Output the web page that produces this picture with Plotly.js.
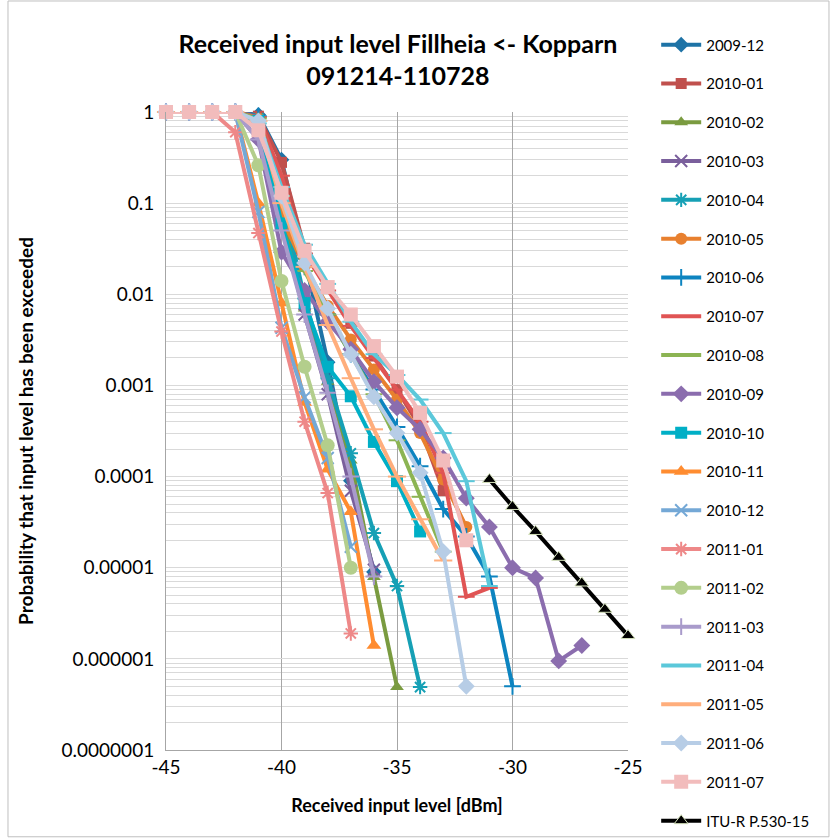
<!DOCTYPE html>
<html>
<head>
<meta charset="utf-8">
<script src="https://cdn.plot.ly/plotly-3.0.1.min.js"></script>
<style>html,body{margin:0;padding:0;background:#fff;}#chart{width:830px;height:840px;}</style>
</head>
<body>
<div id="chart"></div>
<script>
// Received input level (dBm), 1 dB steps starting at -45
const levels = [-45,-44,-43,-42,-41,-40,-39,-38,-37,-36,-35,-34,-33,-32,-31,-30,-29,-28,-27,-26,-25];
const ituLevels = [-31,-30,-29,-28,-27,-26,-25];
const xTickVals = [-45,-40,-35,-30,-25];
const xTickText = ['-45','-40','-35','-30','-25'];
const yTickVals = [1e-7,1e-6,1e-5,1e-4,1e-3,1e-2,1e-1,1];
const yTickText = ['0.0000001','0.000001','0.00001','0.0001','0.001','0.01','0.1','1'];

// Probability that input level has been exceeded, per month
const s2009_12 = [1,1,1,1,0.93,0.3,0.025,0.0018,0.00009,0.000009];
const s2010_01 = [1,1,1,1,0.9,0.28,0.032,0.012,0.0048,0.0021,0.0009,0.00035,0.00007];
const s2010_02 = [1,1,1,1,0.8,0.09,0.007,0.0011,0.00015,0.0000079,0.00000049];
const s2010_03 = [1,1,1,1,0.7,0.06,0.006,0.0008,0.00007,0.0000095];
const s2010_04 = [1,1,1,1,0.85,0.12,0.009,0.0012,0.00018,0.000024,0.0000063,0.00000049];
const s2010_05 = [1,1,1,1,0.85,0.07,0.02,0.0075,0.0032,0.0015,0.0007,0.0003,0.000093,0.000028];
const s2010_06 = [1,1,1,1,0.9,0.15,0.02,0.006,0.0022,0.0009,0.00035,0.00013,0.000044,0.000022,0.000008,0.0000005];
const s2010_07 = [1,1,1,1,0.88,0.2,0.028,0.011,0.0045,0.002,0.0009,0.0004,0.00011,0.0000048,0.000006];
const s2010_08 = [1,1,1,1,0.85,0.12,0.018,0.006,0.0022,0.0008,0.00025,0.00006,0.000015];
const s2010_09 = [1,1,1,1,0.5,0.029,0.011,0.005,0.0025,0.0011,0.00057,0.00033,0.00016,0.000058,0.000028,0.00001,0.0000077,0.00000095,0.0000014];
const s2010_10 = [1,1,1,1,0.8,0.06,0.008,0.0016,0.00076,0.00024,0.000089,0.000025];
const s2010_11 = [1,1,1,1,0.1,0.008,0.00065,0.00012,0.000041,0.0000014];
const s2010_12 = [1,1,1,1,0.08,0.0043,0.00074,0.00016,0.000017];
const s2011_01 = [1,1,1,0.6,0.047,0.0039,0.0004,0.000066,0.0000019];
const s2011_02 = [1,1,1,1,0.26,0.014,0.0016,0.00022,0.00001];
const s2011_03 = [1,1,1,1,0.5,0.05,0.006,0.00083,0.0001,0.000008];
const s2011_04 = [1,1,1,1,0.75,0.15,0.035,0.013,0.005,0.0022,0.0013,0.0007,0.0003,0.000089,0.0000063];
const s2011_05 = [1,1,1,1,0.8,0.1,0.02,0.0046,0.0012,0.00033,0.0001,0.000034,0.000012];
const s2011_06 = [1,1,1,1,0.8,0.12,0.022,0.007,0.0022,0.00075,0.0003,0.00011,0.000015,0.0000005];
const s2011_07 = [1,1,1,1,0.63,0.13,0.03,0.012,0.006,0.0027,0.00125,0.0005,0.00015,0.00002];
const itu = [0.000093,0.000047,0.000025,0.000013,0.0000068,0.0000035,0.0000018];

const seriesNames = ['2009-12','2010-01','2010-02','2010-03','2010-04','2010-05','2010-06','2010-07','2010-08','2010-09','2010-10','2010-11','2010-12','2011-01','2011-02','2011-03','2011-04','2011-05','2011-06','2011-07'];
const seriesValues = [s2009_12,s2010_01,s2010_02,s2010_03,s2010_04,s2010_05,s2010_06,s2010_07,s2010_08,s2010_09,s2010_10,s2010_11,s2010_12,s2011_01,s2011_02,s2011_03,s2011_04,s2011_05,s2011_06,s2011_07];

const styles = [
  {c:'#1E73A6', s:'diamond', z:12},
  {c:'#C0504D', s:'square', z:11},
  {c:'#7A9B40', s:'triangle-up', z:12},
  {c:'#7A5F9C', s:'x-thin-open', z:12},
  {c:'#16A0B5', s:'asterisk-open', z:12},
  {c:'#E8802F', s:'circle', z:12},
  {c:'#0D84C0', s:'cross-thin-open', z:12},
  {c:'#E05454', s:'line-ew-open', z:12},
  {c:'#8CB453', s:'line-ew-open', z:12},
  {c:'#8B6DAE', s:'diamond', z:13},
  {c:'#00AFC6', s:'square', z:12},
  {c:'#FF8C30', s:'triangle-up', z:13},
  {c:'#74A8D6', s:'x-thin-open', z:12},
  {c:'#EE8888', s:'asterisk-open', z:12},
  {c:'#B3CE8C', s:'circle', z:14},
  {c:'#A99BCB', s:'cross-thin-open', z:12},
  {c:'#5BC8DA', s:'line-ew-open', z:12},
  {c:'#FFAE7C', s:'line-ew-open', z:13},
  {c:'#B7CDE6', s:'diamond', z:13},
  {c:'#F2BCBC', s:'square', z:14}
];

const FONT = 'Lato, Carlito, "Noto Sans", sans-serif';
const traces = seriesNames.map((name, i) => {
  const st = styles[i];
  const open = st.s.indexOf('open') >= 0;
  return {
    type: 'scatter', mode: 'lines+markers', name: name, legendgroup: name,
    x: levels.slice(0, seriesValues[i].length), y: seriesValues[i],
    line: {color: st.c, width: 4},
    marker: {symbol: st.s, size: st.z, color: st.c,
             line: open ? {color: st.c, width: 2} : {color: st.c, width: 0}},
    cliponaxis: false
  };
});
traces.push({
  type: 'scatter', mode: 'lines+markers', name: 'ITU-R P.530-15', legendgroup: 'itu',
  x: ituLevels, y: itu,
  line: {color: '#000000', width: 4},
  marker: {symbol: 'triangle-up', size: 12, color: '#000000', line: {color: '#D7E4BD', width: 1}},
  cliponaxis: false
});

// minor gridline positions (2..9 within each decade)
const minorVals = [];
for (let e = -7; e < 0; e++) for (let m = 2; m <= 9; m++) minorVals.push(m * Math.pow(10, e));

const layout = {
  width: 830, height: 840,
  paper_bgcolor: '#ffffff', plot_bgcolor: '#ffffff',
  margin: {l: 166, r: 202, t: 112, b: 90, pad: 0},
  font: {family: FONT, size: 15, color: '#000000'},
  showlegend: true,
  title: {
    text: '<b>Received input level Fillheia <- Kopparn<br>091214-110728</b>',
    font: {family: FONT, size: 25, color: '#000000'},
    x: 0.502, xref: 'paper', xanchor: 'center',
    y: 0.937, yref: 'container', yanchor: 'top'
  },
  xaxis: {
    range: [-45, -25], tickmode: 'array', tickvals: xTickVals, ticktext: xTickText,
    showgrid: true, gridcolor: '#A6A6A6', gridwidth: 1,
    showline: true, linecolor: '#A6A6A6', linewidth: 1, zeroline: false,
    ticks: '', tickfont: {family: FONT, size: 19},
    title: {text: '<b>Received input level [dBm]</b>', font: {family: FONT, size: 18}, standoff: 22}
  },
  yaxis: {
    type: 'log', range: [-7, 0], tickmode: 'array', tickvals: yTickVals, ticktext: yTickText,
    showgrid: true, gridcolor: '#D9D9D9', gridwidth: 1,
    minor: {tickmode: 'array', tickvals: minorVals, showgrid: true, gridcolor: '#D9D9D9', gridwidth: 1, ticks: ''},
    showline: true, linecolor: '#A6A6A6', linewidth: 1, zeroline: false,
    ticks: '', ticklabelstandoff: 7, tickfont: {family: FONT, size: 19},
    title: {text: '<b>Probability that input level has been exceeded</b>', font: {family: FONT, size: 19}, standoff: 22}
  },
  legend: {
    x: 1.061, xanchor: 'left', y: 1.131, yanchor: 'top',
    traceorder: 'grouped', tracegroupgap: 16.3, itemwidth: 40, maxheight: 838,
    font: {family: FONT, size: 15, color: '#000000'},
    bgcolor: 'rgba(0,0,0,0)'
  },
  shapes: [{
    type: 'rect', xref: 'paper', yref: 'paper',
    x0: -0.342, x1: 1.435, y0: -0.136, y1: 1.174,
    line: {color: '#BFBFBF', width: 1}, fillcolor: 'rgba(0,0,0,0)', layer: 'below'
  }]
};

Plotly.newPlot('chart', traces, layout, {displayModeBar: false, staticPlot: true});
</script>
</body>
</html>
